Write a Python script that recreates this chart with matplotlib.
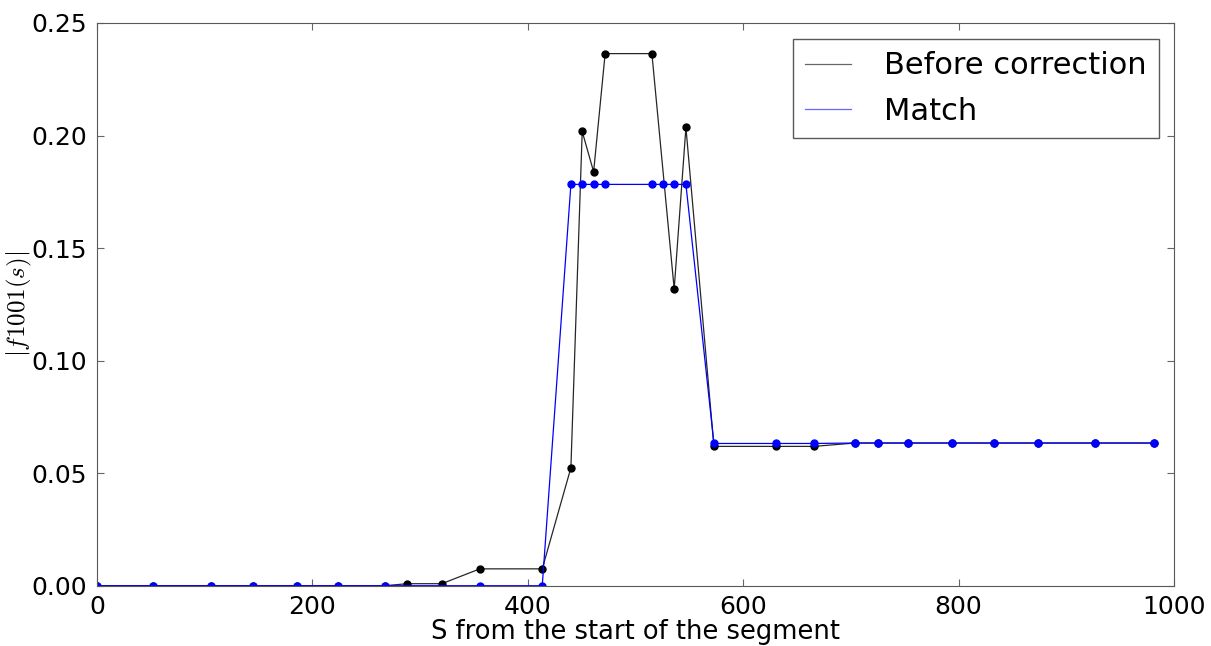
import matplotlib
matplotlib.use("Agg")
import matplotlib.pyplot as plt

# positions along the segment (BPMs)
s_before = [0, 52.3, 105.6, 144.6, 185.5, 224.2, 267.4, 288, 320.2, 355.6, 413.5,
            440.1, 450.6, 461.2, 471.9, 515.3, 536.0, 546.9,
            572.9, 630.3, 665.7, 703.8, 725.0, 752.8, 794.3, 833.2, 873.7, 926.6, 981.4]
f_before = [0, 0, 0, 0, 0, 0, 0, 0.0009, 0.0009, 0.0075, 0.0075,
            0.0524, 0.2018, 0.1839, 0.2364, 0.2364, 0.1318, 0.2036,
            0.0619, 0.0619, 0.0619, 0.0634, 0.0634, 0.0634, 0.0634, 0.0634, 0.0634, 0.0634, 0.0634]

s_match = [0, 52.3, 105.6, 144.6, 185.5, 224.2, 267.4, 355.6, 413.5,
           440.1, 450.6, 461.2, 471.9, 515.3, 525.8, 536.0, 546.9,
           572.9, 630.3, 665.7, 703.8, 725.0, 752.8, 794.3, 833.2, 873.7, 926.6, 981.4]
f_match = [0, 0, 0, 0, 0, 0, 0, 0, 0,
           0.1783, 0.1783, 0.1783, 0.1783, 0.1783, 0.1783, 0.1783, 0.1783,
           0.0632, 0.0632, 0.0632, 0.0634, 0.0634, 0.0634, 0.0634, 0.0634, 0.0634, 0.0634, 0.0634]

plt.rcParams['mathtext.fontset'] = 'cm'
plt.rcParams['font.family'] = 'DejaVu Sans'

fig = plt.figure(figsize=(12.11, 6.46), dpi=100)
ax = fig.add_axes([0.080, 0.0933, 0.8894, 0.8711])

ax.plot(s_before, f_before, color='k', lw=0.9, alpha=0.85, label='Before correction')
ax.plot(s_before, f_before, 'o', color='k', ms=5, mec='k')
ax.plot(s_match, f_match, color='b', lw=0.9, label='Match')
ax.plot(s_match, f_match, 'o', color='b', ms=5, mec='b')

ax.set_xlim(0, 1000)
ax.set_ylim(0, 0.25)
ax.set_yticks([0, 0.05, 0.10, 0.15, 0.20, 0.25])
ax.set_yticklabels(['0.00', '0.05', '0.10', '0.15', '0.20', '0.25'])
ax.tick_params(direction='in', top=True, right=True, labelsize=18, length=5,
               color='0.4', pad=7)
for sp in ax.spines.values():
    sp.set_color('0.35')

ax.set_xlabel('S from the start of the segment', fontsize=18.5, labelpad=0)
ax.set_ylabel(r'$|f1001(s)|$', fontsize=18)
ax.yaxis.set_label_coords(-0.058, 0.5)

leg = ax.legend(loc='upper right', fontsize=22, fancybox=False, framealpha=1,
                handlelength=1.5, handletextpad=1.08, borderpad=0.4,
                labelspacing=0.55, borderaxespad=0,
                bbox_to_anchor=(0.986, 0.9716))
leg.get_frame().set_edgecolor('0.35')
for line in leg.get_lines():
    line.set_alpha(0.6)

fig.savefig('out.png', dpi=100)
